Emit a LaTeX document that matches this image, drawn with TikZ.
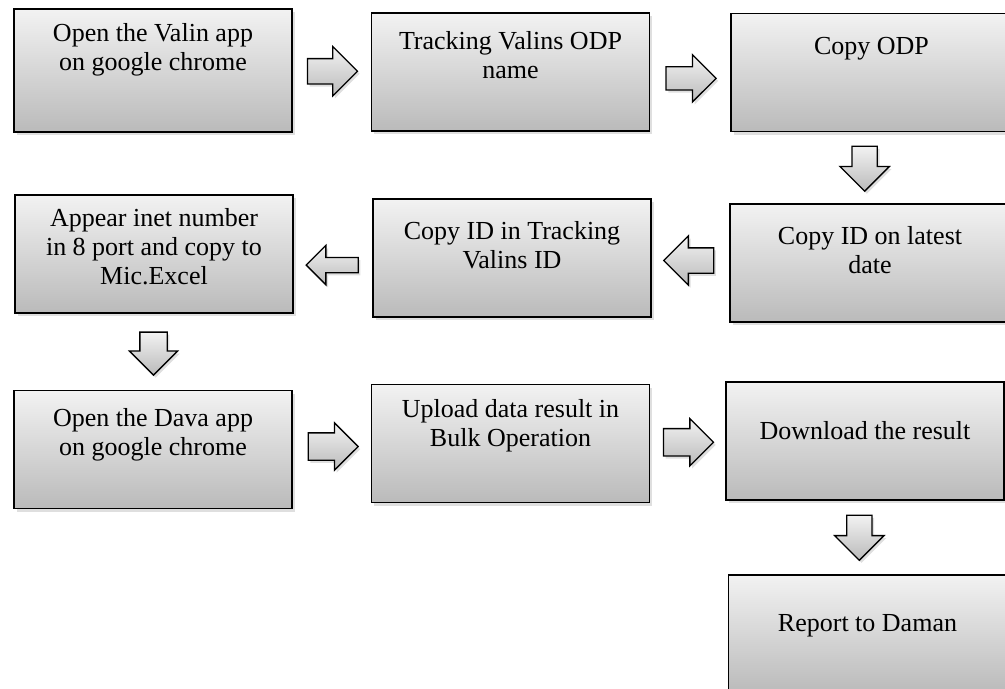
\documentclass[tikz,border=0pt]{standalone}
\usepackage{fontspec}
\setmainfont{Liberation Serif}
\usetikzlibrary{shapes.arrows,shadows,calc}
\newcommand{\px}{0.4615pt}

\begin{document}
\begin{tikzpicture}[x=\px, y=-\px,
    stepbox/.style={draw, line width=0.7pt, minimum width=278*\px, minimum height=118*\px,
      inner sep=0pt, top color=black!5, bottom color=black!27,
      drop shadow={shadow xshift=1.2pt, shadow yshift=-1.4pt, opacity=0.25}},
    steptext/.style={anchor=north, align=center, inner sep=0pt, font=\fontsize{12}{13.4}\selectfont},
    blockarrow/.style={single arrow, draw, line width=0.6pt, inner sep=12*\px,
      minimum height=50*\px, single arrow head extend=12*\px, single arrow head indent=0pt,
      top color=black!5, bottom color=black!27,
      drop shadow={shadow xshift=1pt, shadow yshift=-1.2pt, opacity=0.25}}]
  \useasboundingbox (0,0) rectangle (1005,688);
  \clip (0,0) rectangle (1005,688);

  \node[stepbox, minimum height=123*\px,
    label={[steptext, yshift=-15*\px]north:{Open the Valin app\\on google chrome}}] (valin) at (153,70.5) {};
  \node[stepbox,
    label={[steptext, yshift=-19*\px]north:{Tracking Valins ODP\\name}}] (track) at (510.5,72) {};
  \node[stepbox, minimum width=281*\px,
    label={[steptext, yshift=-24*\px]north:{Copy ODP}}] (odp) at (871.5,72.5) {};

  \node[stepbox,
    label={[steptext, yshift=-14*\px]north:{Appear inet number\\in 8 port and copy to\\Mic.Excel}}] (inet) at (154,254) {};
  \node[stepbox,
    label={[steptext, yshift=-23*\px]north:{Copy ID in Tracking\\Valins ID}}] (inid) at (512,258) {};
  \node[stepbox, minimum width=280*\px,
    label={[steptext, yshift=-23*\px]north:{Copy ID on latest\\date}}] (latest) at (870,263) {};

  \node[stepbox,
    label={[steptext, yshift=-18*\px]north:{Open the Dava app\\on google chrome}}] (dava) at (153,449.5) {};
  \node[stepbox,
    label={[steptext, yshift=-15*\px]north:{Upload data result in\\Bulk Operation}}] (bulk) at (510.5,443.5) {};
  \node[stepbox,
    label={[steptext, yshift=-40*\px]north:{Download the result}}] (result) at (865,441) {};
  \node[stepbox,
    label={[steptext, yshift=-40*\px]north:{Report to Daman}}] (daman) at (867.5,634) {};

  \node[blockarrow, xshift=-2.6pt] (a1) at ($(valin.east)!0.5!(track.west)$) {};
  \node[blockarrow, xshift=-2.3pt, yshift=-2.8pt, inner sep=11*\px] (a2) at ($(track.east)!0.5!(odp.west)$) {};
  \node[blockarrow, shape border rotate=270, minimum height=45*\px, xshift=-2.8pt, yshift=2.5pt] (a3) at ($(odp.south)!0.5!(latest.north)$) {};
  \node[blockarrow, shape border rotate=180, xshift=2.1pt] (a4) at ($(latest.west)!0.5!(inid.east)$) {};
  \node[blockarrow, shape border rotate=180, inner sep=7*\px, minimum height=52*\px, xshift=1.4pt, yshift=-4.2pt] (a5) at ($(inid.west)!0.5!(inet.east)$) {};
  \node[blockarrow, shape border rotate=270, minimum height=43*\px, inner sep=13*\px, single arrow head extend=10.5*\px, yshift=2.3pt] (a6) at ($(inet.south)!0.5!(dava.north)$) {};
  \node[blockarrow, inner sep=13*\px, single arrow head extend=10*\px, xshift=-2.5pt] (a7) at ($(dava.east)!0.5!(bulk.west)$) {};
  \node[blockarrow, inner sep=13*\px, single arrow head extend=10*\px, xshift=-2.8pt] (a8) at ($(bulk.east)!0.5!(result.west)$) {};
  \node[blockarrow, shape border rotate=270, minimum height=45*\px, xshift=-3.2pt, yshift=2.8pt] (a9) at ($(result.south)!0.5!(daman.north)$) {};
\end{tikzpicture}
\end{document}
